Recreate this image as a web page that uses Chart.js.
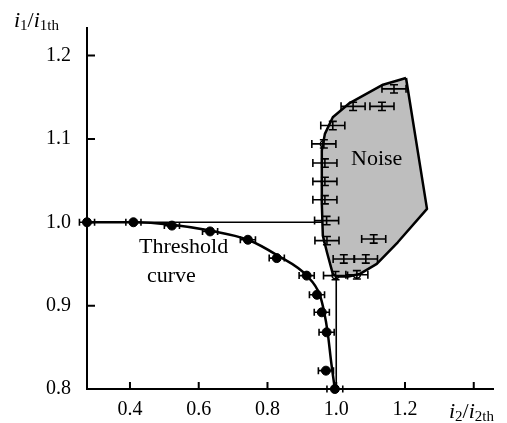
<!DOCTYPE html>
<html>
<head>
<meta charset="utf-8">
<script src="https://cdn.jsdelivr.net/npm/chart.js@4/dist/chart.umd.min.js"></script>
<style>
  html, body { margin: 0; padding: 0; background: #fff; }
  #wrap { width: 507px; height: 423px; }
</style>
</head>
<body>
<div id="wrap"><canvas id="c"></canvas></div>
<script>
// tick labels
const xTicks = [0.4, 0.6, 0.8, 1.0, 1.2, 1.4];
const yTicks = [0.8, 0.9, 1.0, 1.1, 1.2];

// measured threshold points (filled) with horizontal error
const thresholdX = [0.275, 0.41, 0.522, 0.633, 0.743, 0.827, 0.914, 0.944, 0.958, 0.972, 0.97, 0.996];
const thresholdY = [1.0, 1.0, 0.996, 0.989, 0.979, 0.957, 0.936, 0.913, 0.892, 0.868, 0.822, 0.8];
const thresholdErr = [0.022, 0.022, 0.022, 0.022, 0.022, 0.022, 0.022, 0.022, 0.022, 0.022, 0.022, 0.023];

// smooth threshold curve
const curveX = [0.275, 0.41, 0.522, 0.633, 0.743, 0.83, 0.914, 0.952, 0.965, 0.975, 0.986, 0.996];
const curveY = [1.0, 1.0, 0.997, 0.99, 0.979, 0.96, 0.936, 0.913, 0.892, 0.868, 0.83, 0.8];

// right-angle guide line
const stepX = [0.275, 1.0, 1.0];
const stepY = [1.0, 1.0, 0.8];

// noise points (open) with horizontal and small vertical error
const noiseX = [1.168, 1.049, 1.133, 0.99, 0.964, 0.967, 0.967, 0.967, 0.972, 0.973, 1.109, 1.022, 1.086, 0.998, 1.06];
const noiseY = [1.16, 1.139, 1.139, 1.116, 1.094, 1.071, 1.049, 1.027, 1.002, 0.978, 0.98, 0.956, 0.956, 0.936, 0.937];
const noiseErr = [0.035, 0.035, 0.035, 0.035, 0.035, 0.035, 0.035, 0.035, 0.035, 0.035, 0.035, 0.031, 0.034, 0.035, 0.032];
const noiseYErr = 0.005;

// noise region outline
const regionX = [1.203, 1.264, 1.179, 1.118, 1.069, 1.035, 1.002, 0.99, 0.973, 0.961, 0.958, 0.958, 0.967, 0.99, 1.039, 1.136, 1.203];
const regionY = [1.173, 1.016, 0.976, 0.95, 0.938, 0.935, 0.935, 0.938, 0.964, 0.984, 1.023, 1.086, 1.106, 1.126, 1.143, 1.165, 1.173];

const pts = (xs, ys) => xs.map((x, i) => ({ x, y: ys[i] }));
const serif = "'Liberation Serif', 'DejaVu Serif', serif";

const errorBars = {
  id: "errorBars",
  afterDatasetsDraw(chart) {
    const { ctx, scales: { x, y } } = chart;
    ctx.save();
    ctx.strokeStyle = "#000";
    ctx.lineWidth = 1.6;
    const hbar = (xv, yv, e, cap) => {
      const x0 = x.getPixelForValue(xv - e), x1 = x.getPixelForValue(xv + e), py = y.getPixelForValue(yv);
      ctx.beginPath();
      ctx.moveTo(x0, py); ctx.lineTo(x1, py);
      ctx.moveTo(x0, py - cap); ctx.lineTo(x0, py + cap);
      ctx.moveTo(x1, py - cap); ctx.lineTo(x1, py + cap);
      ctx.stroke();
    };
    thresholdX.forEach((xv, i) => hbar(xv, thresholdY[i], thresholdErr[i], 3.5));
    noiseX.forEach((xv, i) => {
      hbar(xv, noiseY[i], noiseErr[i], 4);
      const px = x.getPixelForValue(xv), y0 = y.getPixelForValue(noiseY[i] - noiseYErr), y1 = y.getPixelForValue(noiseY[i] + noiseYErr);
      ctx.beginPath();
      ctx.moveTo(px, y0); ctx.lineTo(px, y1);
      ctx.moveTo(px - 4, y0); ctx.lineTo(px + 4, y0);
      ctx.moveTo(px - 4, y1); ctx.lineTo(px + 4, y1);
      ctx.stroke();
    });
    ctx.restore();
  },
};

// inward ticks, axis titles and text labels
const decorations = {
  id: "decorations",
  afterDraw(chart) {
    const { ctx, scales: { x, y } } = chart;
    ctx.save();
    ctx.strokeStyle = "#000";
    ctx.lineWidth = 2;
    ctx.beginPath();
    xTicks.forEach((v) => {
      const px = x.getPixelForValue(v);
      ctx.moveTo(px, y.bottom); ctx.lineTo(px, y.bottom - 7);
    });
    yTicks.forEach((v) => {
      const py = y.getPixelForValue(v);
      ctx.moveTo(x.left, py); ctx.lineTo(x.left + 8, py);
    });
    ctx.stroke();

    ctx.fillStyle = "#000";
    ctx.textBaseline = "alphabetic";
    const run = (parts, sx, sy) => {
      let cx = sx;
      parts.forEach(([txt, font, dy]) => {
        ctx.font = font;
        ctx.fillText(txt, cx, sy + dy);
        cx += ctx.measureText(txt).width;
      });
    };
    const it = "italic 22px " + serif, rm = "22px " + serif, sub = "15px " + serif;
    run([["i", it, 0], ["1", sub, 3], ["/", rm, 0], ["i", it, 0], ["1th", sub, 3]], 14, 27);
    run([["i", it, 0], ["2", sub, 3], ["/", rm, 0], ["i", it, 0], ["2th", sub, 3]], 449, 418);

    ctx.font = "22px " + serif;
    ctx.textAlign = "left";
    ctx.fillText("Noise", 351, 165);
    ctx.fillText("Threshold", 139, 253);
    ctx.fillText("curve", 147, 282);
    ctx.restore();
  },
};

new Chart(document.getElementById("c"), {
  type: "scatter",
  data: {
    datasets: [
      {
        data: pts(regionX, regionY), showLine: true, fill: "shape", tension: 0,
        backgroundColor: "#bebebe", borderColor: "#000", borderWidth: 2.5, pointRadius: 0,
        borderJoinStyle: "round",
      },
      {
        data: pts(stepX, stepY), showLine: true, tension: 0,
        borderColor: "#000", borderWidth: 1.6, pointRadius: 0,
      },
      {
        data: pts(curveX, curveY), showLine: true, cubicInterpolationMode: "monotone",
        borderColor: "#000", borderWidth: 2.5, pointRadius: 0,
      },
      {
        data: pts(thresholdX, thresholdY), pointRadius: 4.5,
        backgroundColor: "#000", borderColor: "#000",
      },
      {
        data: pts(noiseX, noiseY), pointRadius: 3.5, borderWidth: 1.5,
        backgroundColor: "rgba(0,0,0,0)", borderColor: "#000",
      },
    ],
  },
  options: {
    responsive: true,
    maintainAspectRatio: false,
    animation: false,
    clip: false,
    layout: { padding: { top: 22, right: 14, left: 0, bottom: 0 } },
    plugins: { legend: { display: false }, tooltip: { enabled: false } },
    scales: {
      x: {
        type: "linear", min: 0.275, max: 1.456,
        afterBuildTicks: (s) => { s.ticks = xTicks.map((v) => ({ value: v })); },
        afterFit: (s) => { s.height = 34; },
        grid: { display: false, drawTicks: false },
        border: { color: "#000", width: 2 },
        ticks: {
          padding: 9, color: "#000", font: { family: serif, size: 20 }, maxRotation: 0,
          callback: (v) => (v > 1.3 ? "" : v.toFixed(1)),
        },
      },
      y: {
        type: "linear", min: 0.8, max: 1.233,
        afterBuildTicks: (s) => { s.ticks = yTicks.map((v) => ({ value: v })); },
        afterFit: (s) => { s.width = 87; },
        grid: { display: false, drawTicks: false },
        border: { color: "#000", width: 2 },
        ticks: {
          padding: 16, color: "#000", font: { family: serif, size: 20 },
          callback: (v) => v.toFixed(1),
        },
      },
    },
  },
  plugins: [errorBars, decorations],
});
</script>
</body>
</html>
